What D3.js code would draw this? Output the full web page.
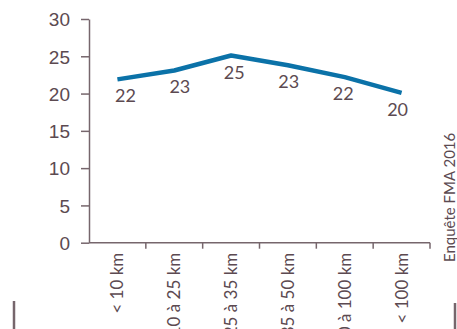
<!DOCTYPE html>
<html>
<head>
<meta charset="utf-8">
<script src="https://cdn.jsdelivr.net/npm/d3@7"></script>
<style>
  body { margin: 0; background: #fff; overflow: hidden; }
  svg { display: block; font-family: Lato, "Noto Sans", sans-serif; }
</style>
</head>
<body>
<div id="chart"></div>
<script>
const categories = ["< 10 km", "10 à 25 km", "25 à 35 km", "35 à 50 km", "50 à 100 km", "< 100 km"];
const values = [21.9, 23.1, 25.1, 23.8, 22.2, 20.1];
const valueLabels = ["22", "23", "25", "23", "22", "20"];
const yTicks = [0, 5, 10, 15, 20, 25, 30];
const source = "Enquête FMA 2016";

const width = 457, height = 329;
const textColor = "#5c4a51";
const axisColor = "#76666c";
const lineColor = "#0b72a8";

const svg = d3.select("#chart")
  .append("svg")
  .attr("width", width)
  .attr("height", height);

const x = d3.scaleBand().domain(categories).range([89, 430]).padding(0);
const y = d3.scaleLinear().domain([0, 30]).range([242.7, 19]);

// y axis
const yAxis = svg.append("g")
  .attr("transform", "translate(89,0)")
  .call(d3.axisLeft(y).tickValues(yTicks).tickSize(8).tickPadding(11).tickSizeOuter(0));
yAxis.select(".domain").attr("stroke", axisColor).attr("stroke-width", 1.5);
yAxis.selectAll(".tick line").attr("stroke", axisColor).attr("stroke-width", 1.5);
yAxis.selectAll(".tick text")
  .attr("fill", textColor)
  .style("font-size", "19px")
  .attr("dy", "0.36em");

// x axis: domain line + ticks at band boundaries
const xAxis = svg.append("g");
xAxis.append("line")
  .attr("x1", x.range()[0]).attr("x2", x.range()[1])
  .attr("y1", y(0)).attr("y2", y(0))
  .attr("stroke", axisColor).attr("stroke-width", 1.5);
xAxis.selectAll(".xtick")
  .data(categories)
  .join("line")
  .attr("class", "xtick")
  .attr("x1", (d) => x(d) + x.bandwidth())
  .attr("x2", (d) => x(d) + x.bandwidth())
  .attr("y1", y(0))
  .attr("y2", y(0) + 6)
  .attr("stroke", axisColor).attr("stroke-width", 1.5);
xAxis.selectAll(".xlabel")
  .data(categories)
  .join("text")
  .attr("class", "xlabel")
  .attr("transform", (d) => `translate(${x(d) + x.bandwidth() / 2 + 6},${y(0) + 10}) rotate(-90)`)
  .attr("text-anchor", "end")
  .attr("fill", textColor)
  .style("font-size", "17px")
  .text((d) => d);

// line
const line = d3.line()
  .x((d, i) => x(categories[i]) + x.bandwidth() / 2)
  .y((d) => y(d));

svg.append("path")
  .datum(values)
  .attr("fill", "none")
  .attr("stroke", lineColor)
  .attr("stroke-width", 4.5)
  .attr("stroke-linejoin", "round")
  .attr("d", line);

// value labels
svg.selectAll(".vlabel")
  .data(values)
  .join("text")
  .attr("class", "vlabel")
  .attr("x", (d, i) => x(categories[i]) + x.bandwidth() / 2 + 8 - i * 2.4)
  .attr("y", (d) => y(d) + 23)
  .attr("text-anchor", "middle")
  .attr("fill", textColor)
  .style("font-size", "18px")
  .text((d, i) => valueLabels[i]);

// source
svg.append("text")
  .attr("transform", "translate(455,262) rotate(-90)")
  .attr("fill", textColor)
  .style("font-size", "15px")
  .text(source);

// frame marks
svg.append("line")
  .attr("x1", 14).attr("x2", 14).attr("y1", 301).attr("y2", height)
  .attr("stroke", axisColor).attr("stroke-width", 2.5);
svg.append("line")
  .attr("x1", 455).attr("x2", 455).attr("y1", 303).attr("y2", height)
  .attr("stroke", axisColor).attr("stroke-width", 2.5);
</script>
</body>
</html>
